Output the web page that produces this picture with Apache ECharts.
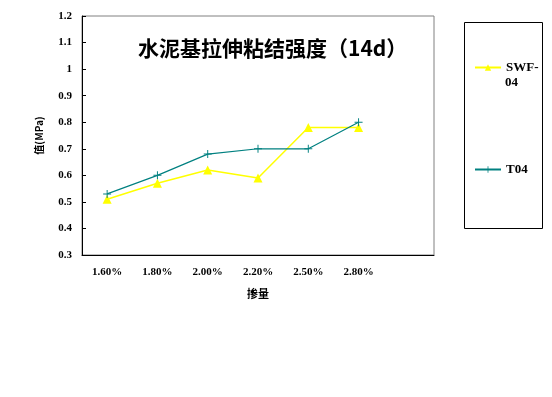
<!DOCTYPE html>
<html>
<head>
<meta charset="utf-8">
<script src="https://cdn.jsdelivr.net/npm/echarts@6/dist/echarts.min.js"></script>
<style>
html, body { margin: 0; padding: 0; background: #fff; }
#chart { width: 552px; height: 397px; }
</style>
</head>
<body>
<div id="chart"></div>
<script>
// 数据
var categories = ['1.60%', '1.80%', '2.00%', '2.20%', '2.50%', '2.80%', ''];
var swf04 = [0.51, 0.57, 0.62, 0.59, 0.78, 0.78];
var t04 = [0.53, 0.60, 0.68, 0.70, 0.70, 0.80];

var chart = echarts.init(document.getElementById('chart'));
var plusPath = 'path://M-0.12,-1H0.12V-0.12H1V0.12H0.12V1H-0.12V0.12H-1V-0.12H-0.12Z';
var labelFont = { fontFamily: 'Liberation Serif', fontWeight: 'bold', fontSize: 11, color: '#000' };

chart.setOption({
	animation: false,
	title: {
		text: '水泥基拉伸粘结强度（14d）',
		left: 133,
		top: 33,
		textStyle: { fontFamily: 'Noto Sans CJK SC', fontWeight: 'bold', fontSize: 21, color: '#000' }
	},
	graphic: [{
		type: 'rect',
		shape: { x: 464.5, y: 22.5, width: 78, height: 206 },
		style: { fill: '#fff', stroke: '#000', lineWidth: 1 },
		z: 0
	}, {
		// 图例第二行
		type: 'text',
		left: 505,
		top: 76,
		style: { text: '04', font: 'bold 13px "Liberation Serif"', fill: '#000' },
		z: 5
	}],
	legend: {
		orient: 'vertical',
		left: 469,
		top: 56,
		itemGap: 89,
		itemWidth: 26,
		itemHeight: 8,
		data: ['SWF-04', 'T04'],
		formatter: function(name) {
			return name === 'SWF-04' ? 'SWF-' : name;
		},
		textStyle: { fontFamily: 'Liberation Serif', fontWeight: 'bold', fontSize: 13, color: '#000' },
		z: 5
	},
	grid: {
		left: 82, top: 16, right: 118, bottom: 142,
		show: true, borderColor: '#808080', borderWidth: 1, backgroundColor: '#fff'
	},
	xAxis: {
		type: 'category',
		data: categories,
		boundaryGap: true,
		name: '掺量',
		nameLocation: 'middle',
		nameGap: 33,
		nameTextStyle: { fontFamily: 'Noto Sans CJK SC', fontWeight: 'bold', fontSize: 11, color: '#000' },
		axisLine: { lineStyle: { color: '#000', width: 1 } },
		axisTick: { inside: true, length: 4, lineStyle: { color: '#000' } },
		axisLabel: Object.assign({ margin: 12 }, labelFont),
		splitLine: { show: false }
	},
	yAxis: {
		type: 'value',
		min: 0.3,
		max: 1.2,
		interval: 0.1,
		name: '值(MPa)',
		nameLocation: 'middle',
		nameRotate: 90,
		nameGap: 38,
		nameTextStyle: { fontFamily: 'Noto Sans CJK SC', fontWeight: 'bold', fontSize: 10, color: '#000' },
		axisLine: { show: true, lineStyle: { color: '#000', width: 1 } },
		axisTick: { show: true, inside: true, length: 4, lineStyle: { color: '#000' } },
		axisLabel: Object.assign({ margin: 10, formatter: function(v) { return Math.round(v * 10) / 10 + ''; } }, labelFont),
		splitLine: { show: false }
	},
	series: [
		{
			name: 'SWF-04',
			type: 'line',
			data: swf04,
			symbol: 'triangle',
			symbolSize: 9,
			itemStyle: { color: '#ffff00' },
			lineStyle: { color: '#ffff00', width: 1.5 }
		},
		{
			name: 'T04',
			type: 'line',
			data: t04,
			symbol: plusPath,
			symbolSize: 8,
			itemStyle: { color: '#008080' },
			lineStyle: { color: '#008080', width: 1.2 }
		}
	]
});
</script>
</body>
</html>
